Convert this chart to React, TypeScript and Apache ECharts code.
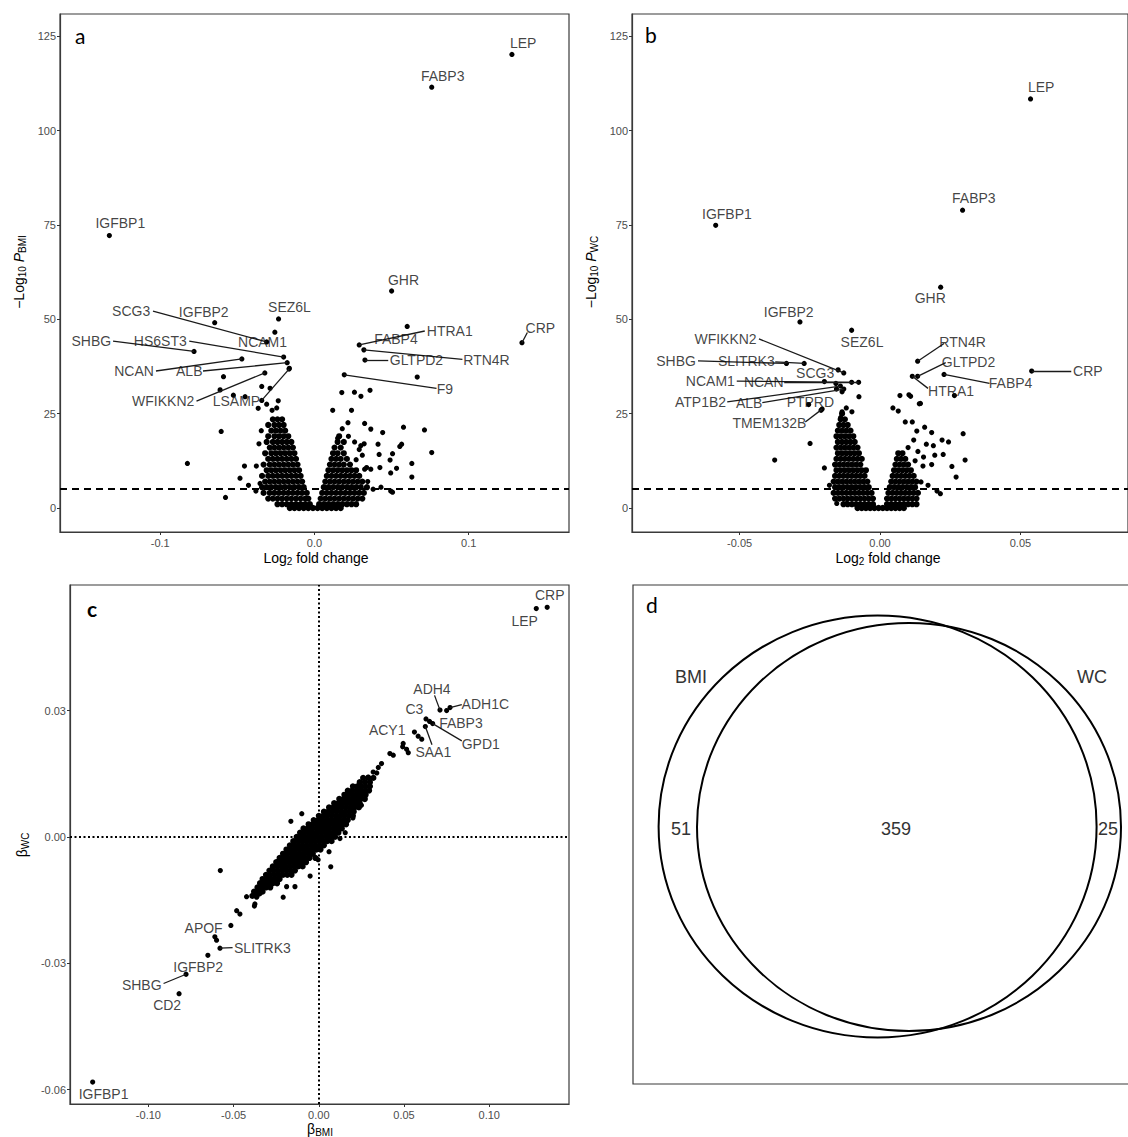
import React, { useEffect, useRef } from "react";
import * as echarts from "echarts";

const FONT = '"Liberation Sans", Arial, Helvetica, sans-serif';
const LETTER_FONT = 'Lato, "Open Sans", sans-serif';

// ---------- Panel a: BMI volcano ----------
const aXTicks = [-0.1, 0, 0.1];
const aXTickLabels = ["-0.1", "0.0", "0.1"];
const yTicksAB = [0, 25, 50, 75, 100, 125];
const yTickLabelsAB = ["0", "25", "50", "75", "100", "125"];
const pThreshold = 5;

const aLabeledPoints: number[][] = [
  [0.128, 120.2], [0.076, 111.5], [-0.133, 72.2], [0.05, 57.5], [-0.0233, 50.1],
  [-0.0647, 49.1], [0.0601, 48.1], [0.1345, 43.8], [-0.0257, 46.6], [-0.031, 44.0],
  [-0.0781, 41.5], [-0.02, 40.0], [-0.0471, 39.5], [-0.0177, 38.5], [-0.0322, 35.8],
  [-0.0165, 36.8], [0.029, 43.2], [0.032, 41.9], [0.0327, 39.2], [0.0193, 35.3],
];
const aOtherPoints: number[][] = [
  [-0.0163, 37.0], [-0.059, 34.8], [-0.0612, 31.3], [-0.0526, 29.9], [-0.045, 29.5],
  [-0.0342, 32.2], [-0.0288, 31.7], [-0.0342, 28.5], [-0.0365, 26.4], [-0.0275, 25.9],
  [-0.0235, 28.4], [-0.0605, 20.3], [-0.0824, 11.8], [-0.0577, 2.8], [-0.0483, 7.9],
  [-0.0454, 11.1], [-0.0428, 6.0], [-0.0377, 11.1], [-0.0353, 6.5], [-0.038, 4.5],
  [-0.0345, 20.5], [-0.036, 17.0], [-0.031, 27.5], [-0.0245, 26.5],
  [0.0666, 34.7], [0.0177, 30.6], [0.0259, 30.7], [0.0301, 29.6], [0.036, 31.2],
  [0.0118, 25.9], [0.024, 25.9], [0.0217, 22.6], [0.0325, 22.4], [0.0365, 20.9],
  [0.0577, 21.4], [0.0713, 20.7], [0.076, 14.7], [0.0442, 20.0], [0.0412, 16.9],
  [0.0553, 16.3], [0.0565, 16.9], [0.0506, 14.4], [0.049, 12.7], [0.0631, 11.8],
  [0.0494, 9.3], [0.0631, 8.2], [0.0431, 5.5], [0.0494, 4.5], [0.0506, 4.2],
  [0.0419, 14.2], [0.0325, 10.3], [0.0365, 10.3], [0.0345, 7.0], [0.038, 5.0],
  [0.026, 17.5], [0.029, 15.5], [0.031, 14.0], [0.027, 12.8], [0.022, 19.0],
  [0.018, 21.0], [0.015, 18.5], [0.03, 16.5], [0.0424, 10.7], [0.0338, 10.7],
  [0.0532, 10.5], [0.0322, 17.0],
];
const aCloudRows: [number, number[]][] = [
  [0, [-0.016, -0.013, -0.01, -0.007, -0.004, -0.001, 0.002, 0.005, 0.008, 0.011, 0.014, 0.017]],
  [1, [-0.024, -0.021, -0.018, -0.015, -0.012, -0.009, -0.006, -0.003, 0.003, 0.006, 0.009, 0.012, 0.015, 0.018, 0.021, 0.024, 0.027]],
  [2.5, [-0.03, -0.027, -0.024, -0.021, -0.018, -0.015, -0.012, -0.009, -0.006, -0.004, 0.004, 0.007, 0.01, 0.013, 0.016, 0.019, 0.022, 0.025, 0.028, 0.031]],
  [4, [-0.033, -0.029, -0.026, -0.023, -0.02, -0.017, -0.014, -0.011, -0.008, -0.005, 0.005, 0.008, 0.011, 0.014, 0.017, 0.02, 0.023, 0.026, 0.029, 0.032]],
  [5.5, [-0.034, -0.031, -0.028, -0.025, -0.022, -0.019, -0.016, -0.013, -0.01, -0.007, 0.006, 0.009, 0.012, 0.015, 0.018, 0.021, 0.024, 0.027, 0.03, 0.034]],
  [7, [-0.032, -0.029, -0.026, -0.023, -0.02, -0.017, -0.014, -0.011, -0.008, 0.007, 0.01, 0.013, 0.016, 0.019, 0.022, 0.025, 0.028, 0.031]],
  [8.5, [-0.034, -0.03, -0.027, -0.024, -0.021, -0.018, -0.015, -0.012, -0.009, 0.008, 0.011, 0.014, 0.017, 0.02, 0.023, 0.026, 0.029]],
  [10, [-0.031, -0.028, -0.025, -0.022, -0.019, -0.016, -0.013, -0.01, 0.009, 0.012, 0.015, 0.018, 0.021, 0.024, 0.027]],
  [11.5, [-0.033, -0.029, -0.026, -0.023, -0.02, -0.017, -0.014, -0.011, 0.01, 0.013, 0.016, 0.019, 0.023]],
  [13, [-0.03, -0.027, -0.024, -0.021, -0.018, -0.015, -0.012, 0.011, 0.014, 0.017, 0.021]],
  [14.5, [-0.032, -0.028, -0.025, -0.022, -0.019, -0.016, -0.013, 0.012, 0.015, 0.019]],
  [16, [-0.029, -0.026, -0.023, -0.02, -0.017, -0.014, 0.013, 0.017]],
  [17.5, [-0.031, -0.027, -0.024, -0.021, -0.018, -0.015, 0.015, 0.019]],
  [19, [-0.03, -0.026, -0.023, -0.02, -0.017, 0.016]],
  [20.5, [-0.028, -0.025, -0.022, -0.019]],
  [22, [-0.03, -0.026, -0.023, -0.02]],
  [23.5, [-0.027, -0.024, -0.021]],
];
const aLabels: [string, number, number][] = [
  ["LEP", 0.1353, 123.3], ["FABP3", 0.0831, 114.6], ["IGFBP1", -0.1259, 75.4],
  ["GHR", 0.0577, 60.4], ["SEZ6L", -0.0162, 53.2], ["IGFBP2", -0.0718, 52.0],
  ["SCG3", -0.1189, 52.2], ["SHBG", -0.1447, 44.2], ["HS6ST3", -0.1, 44.2],
  ["NCAM1", -0.0337, 43.9], ["NCAN", -0.117, 36.3], ["ALB", -0.0812, 36.3],
  ["WFIKKN2", -0.0981, 28.3], ["LSAMP", -0.0506, 28.3], ["HTRA1", 0.0877, 46.9],
  ["FABP4", 0.0528, 44.7], ["GLTPD2", 0.0661, 39.2], ["RTN4R", 0.1115, 39.2],
  ["F9", 0.0845, 31.5], ["CRP", 0.1464, 47.6],
];
const aSegments: number[][] = [
  [-0.1047, 52.2, -0.0311, 44.0], [-0.1306, 44.2, -0.0781, 41.5], [-0.0812, 44.2, -0.02, 40.0],
  [-0.1028, 36.3, -0.0471, 39.5], [-0.0723, 36.3, -0.0177, 38.5], [-0.0765, 28.3, -0.0322, 35.8],
  [-0.0341, 28.6, -0.0165, 36.8], [0.0715, 46.9, 0.029, 43.2], [0.0478, 39.2, 0.0327, 39.2],
  [0.0959, 39.4, 0.032, 41.9], [0.0791, 31.7, 0.0193, 35.3], [0.138, 46.5, 0.1345, 43.8],
];

// ---------- Panel b: WC volcano ----------
const bXTicks = [-0.05, 0, 0.05];
const bXTickLabels = ["-0.05", "0.00", "0.05"];
const bLabeledPoints: number[][] = [
  [0.0536, 108.4], [0.0294, 78.9], [-0.0585, 74.9], [0.0216, 58.5], [-0.0285, 49.3],
  [-0.0101, 47.1], [-0.0129, 35.8], [-0.0333, 38.3], [-0.027, 38.3], [-0.0149, 36.6],
  [-0.0101, 33.3], [-0.0076, 33.3], [-0.0141, 32.3], [-0.0129, 31.5], [-0.0254, 27.4],
  [-0.0206, 26.2], [0.0134, 38.9], [0.0134, 34.9], [0.0115, 34.9], [0.0228, 35.4],
  [0.054, 36.3],
];
const bOtherPoints: number[][] = [
  [-0.0198, 33.5], [-0.0157, 33.0], [-0.0135, 30.8], [-0.0155, 31.5], [-0.0075, 29.5],
  [-0.0249, 17.1], [-0.0375, 12.7], [-0.0198, 10.6], [-0.018, 6.0], [-0.0154, 1.2],
  [-0.0119, 1.2], [-0.021, 25.9], [-0.012, 26.5], [-0.0135, 25.5], [-0.014, 24.0],
  [-0.01, 25.5],
  [0.0296, 19.7], [0.0303, 12.7], [0.0271, 8.2], [0.0256, 11.0], [0.0244, 17.5],
  [0.0221, 18.0], [0.0184, 20.0], [0.0184, 11.5], [0.0153, 11.1], [0.0165, 16.9],
  [0.0131, 20.4], [0.0115, 22.8], [0.009, 22.8], [0.0159, 21.4], [0.0146, 6.9],
  [0.0203, 4.5], [0.0215, 3.8], [0.0171, 6.0], [0.0071, 29.8], [0.0046, 26.5],
  [0.0065, 25.7], [0.0109, 29.6], [0.0144, 27.7], [0.0265, 29.8], [0.0103, 30.0],
  [0.014, 27.6], [0.012, 18.0], [0.01, 16.0], [0.0135, 15.0], [0.0155, 13.5],
  [0.0195, 14.0], [0.0125, 12.5], [0.0225, 14.2], [0.019, 16.5],
];
const bCloudRows: [number, number[]][] = [
  [0, [-0.008, -0.0065, -0.005, -0.0035, -0.002, -0.0005, 0.001, 0.0025, 0.004, 0.0055, 0.007, 0.0085]],
  [1, [-0.013, -0.0115, -0.01, -0.0085, -0.007, -0.0055, -0.004, -0.0025, 0.0025, 0.004, 0.0055, 0.007, 0.0085, 0.01, 0.0115, 0.013]],
  [2.5, [-0.016, -0.0145, -0.013, -0.0115, -0.01, -0.0085, -0.007, -0.0055, -0.004, -0.0025, 0.0025, 0.004, 0.0055, 0.007, 0.0085, 0.01, 0.0115, 0.013]],
  [4, [-0.0165, -0.015, -0.0135, -0.012, -0.0105, -0.009, -0.0075, -0.006, -0.0045, -0.003, 0.003, 0.0045, 0.006, 0.0075, 0.009, 0.0105, 0.012, 0.0135]],
  [5.5, [-0.016, -0.0145, -0.013, -0.0115, -0.01, -0.0085, -0.007, -0.0055, -0.004, 0.0035, 0.005, 0.0065, 0.008, 0.0095, 0.011, 0.0125]],
  [7, [-0.0165, -0.015, -0.0135, -0.012, -0.0105, -0.009, -0.0075, -0.006, -0.0045, 0.004, 0.0055, 0.007, 0.0085, 0.01, 0.0115, 0.013]],
  [8.5, [-0.016, -0.0145, -0.013, -0.0115, -0.01, -0.0085, -0.007, -0.0055, 0.0045, 0.006, 0.0075, 0.009, 0.0105, 0.012]],
  [10, [-0.0155, -0.014, -0.0125, -0.011, -0.0095, -0.008, -0.0065, -0.005, 0.005, 0.0065, 0.008, 0.0095, 0.011]],
  [11.5, [-0.016, -0.0145, -0.013, -0.0115, -0.01, -0.0085, -0.007, 0.0055, 0.007, 0.0085, 0.01]],
  [13, [-0.0155, -0.014, -0.0125, -0.011, -0.0095, -0.008, -0.0065, 0.006, 0.0075, 0.009]],
  [14.5, [-0.015, -0.0135, -0.012, -0.0105, -0.009, -0.0075, 0.0065, 0.008]],
  [16, [-0.0155, -0.014, -0.0125, -0.011, -0.0095, -0.008]],
  [17.5, [-0.015, -0.0135, -0.012, -0.0105, -0.009]],
  [19, [-0.0155, -0.014, -0.0125, -0.011, -0.0095]],
  [20.5, [-0.015, -0.0135, -0.012, -0.0105]],
  [22, [-0.0145, -0.013, -0.0115]],
  [23.5, [-0.014, -0.0125]],
  [25, [-0.0135]],
];
const bLabels: [string, number, number][] = [
  ["LEP", 0.0574, 111.5], ["FABP3", 0.0334, 82.1], ["IGFBP1", -0.0545, 77.8],
  ["GHR", 0.0179, 55.6], ["IGFBP2", -0.0325, 52.0], ["SEZ6L", -0.0064, 44.0],
  ["WFIKKN2", -0.055, 44.8], ["SHBG", -0.0726, 39.0], ["SLITRK3", -0.0476, 39.0],
  ["SCG3", -0.0231, 35.9], ["NCAM1", -0.0604, 33.6], ["NCAN", -0.0414, 33.4],
  ["ATP1B2", -0.0639, 28.0], ["ALB", -0.0466, 27.9], ["PTPRD", -0.0248, 28.0],
  ["TMEM132B", -0.0394, 22.4], ["RTN4R", 0.0294, 44.0], ["GLTPD2", 0.0315, 38.6],
  ["HTRA1", 0.0253, 31.0], ["FABP4", 0.0465, 33.0], ["CRP", 0.074, 36.3],
];
const bSegments: number[][] = [
  [-0.0431, 44.8, -0.0129, 35.8], [-0.0648, 39.0, -0.0333, 38.3], [-0.0373, 38.7, -0.027, 38.3],
  [-0.051, 33.6, -0.0101, 33.3], [-0.0341, 33.3, -0.0076, 33.3], [-0.0544, 28.1, -0.0141, 32.3],
  [-0.0419, 27.9, -0.0129, 31.5], [-0.0266, 22.8, -0.0206, 26.2], [0.0228, 43.6, 0.0134, 38.9],
  [0.0234, 38.5, 0.0134, 34.9], [0.0171, 31.7, 0.0115, 34.9], [0.039, 33.0, 0.0228, 35.4],
  [0.0681, 36.3, 0.054, 36.3],
];

// ---------- Panel c: beta BMI vs beta WC ----------
const cXTicks = [-0.1, -0.05, 0, 0.05, 0.1];
const cXTickLabels = ["-0.10", "-0.05", "0.00", "0.05", "0.10"];
const cYTicks = [-0.06, -0.03, 0, 0.03];
const cYTickLabels = ["-0.06", "-0.03", "0.00", "0.03"];
const cLabeledPoints: number[][] = [
  [0.134, 0.0545], [0.1276, 0.0542], [0.0711, 0.0301], [0.077, 0.0307], [0.0629, 0.028],
  [0.065, 0.0274], [0.0668, 0.0269], [0.0625, 0.0262], [0.0561, 0.0249], [-0.0516, -0.021],
  [-0.058, -0.0264], [-0.0651, -0.0281], [-0.0779, -0.0326], [-0.082, -0.0372],
  [-0.1327, -0.0582],
];
const cOtherPoints: number[][] = [
  [0.075, 0.03], [0.0583, 0.0239], [0.0604, 0.0232], [0.0495, 0.0222], [0.0492, 0.0214],
  [0.0515, 0.0208], [0.0525, 0.02], [0.0417, 0.0198], [0.0437, 0.0194], [0.0368, 0.0174],
  [0.0349, 0.0165], [0.0319, 0.0154], [0.029, 0.0142], [0.034, 0.0152],
  [-0.061, -0.0237], [-0.06, -0.0245], [-0.0482, -0.0175], [-0.0463, -0.0183],
  [-0.0424, -0.0142], [-0.0375, -0.0159], [-0.0365, -0.0143], [-0.0346, -0.0135],
  [-0.0209, -0.0143], [-0.0189, -0.0118], [-0.014, -0.0118], [-0.0578, -0.008],
  [-0.0051, -0.0093], [-0.0004, -0.0054], [0.007, -0.0071], [0.0124, -0.0004],
  [-0.0335, -0.0119], [-0.0378, -0.0164], [-0.024, -0.0058], [-0.0164, 0.0037],
  [-0.01, 0.0055], [0.006, -0.0035], [0.0155, 0.001], [0.02, 0.0045], [0.025, 0.0075],
];
const cCloudRows: [number, number[]][] = [
  [0.014, [0.026, 0.029, 0.032]],
  [0.013, [0.024, 0.027, 0.03]],
  [0.012, [0.02, 0.0225, 0.025, 0.0275, 0.03]],
  [0.011, [0.017, 0.0195, 0.022, 0.0245, 0.027, 0.0295]],
  [0.01, [0.015, 0.0175, 0.02, 0.0225, 0.025, 0.0275]],
  [0.009, [0.012, 0.0145, 0.017, 0.0195, 0.022, 0.0245, 0.027]],
  [0.008, [0.009, 0.0115, 0.014, 0.0165, 0.019, 0.0215, 0.024]],
  [0.007, [0.006, 0.0085, 0.011, 0.0135, 0.016, 0.0185, 0.021, 0.0235]],
  [0.006, [0.003, 0.0055, 0.008, 0.0105, 0.013, 0.0155, 0.018, 0.0205]],
  [0.005, [0.0, 0.0025, 0.005, 0.0075, 0.01, 0.0125, 0.015, 0.0175, 0.02]],
  [0.004, [-0.003, -0.0005, 0.002, 0.0045, 0.007, 0.0095, 0.012, 0.0145, 0.017]],
  [0.003, [-0.006, -0.0035, -0.001, 0.0015, 0.004, 0.0065, 0.009, 0.0115, 0.014, 0.016]],
  [0.002, [-0.009, -0.0065, -0.004, -0.0015, 0.001, 0.0035, 0.006, 0.0085, 0.011, 0.0135]],
  [0.001, [-0.011, -0.0085, -0.006, -0.0035, -0.001, 0.0015, 0.004, 0.0065, 0.009, 0.0115]],
  [0.0, [-0.013, -0.0105, -0.008, -0.0055, -0.003, -0.0005, 0.002, 0.0045, 0.007, 0.0095]],
  [-0.001, [-0.015, -0.0125, -0.01, -0.0075, -0.005, -0.0025, 0.0, 0.0025, 0.005, 0.0075]],
  [-0.002, [-0.017, -0.0145, -0.012, -0.0095, -0.007, -0.0045, -0.002, 0.0005, 0.003]],
  [-0.003, [-0.019, -0.0165, -0.014, -0.0115, -0.009, -0.0065, -0.004, -0.0015, 0.001]],
  [-0.004, [-0.021, -0.0185, -0.016, -0.0135, -0.011, -0.0085, -0.006, -0.0035]],
  [-0.005, [-0.023, -0.0205, -0.018, -0.0155, -0.013, -0.0105, -0.008, -0.0055, -0.002]],
  [-0.006, [-0.025, -0.0225, -0.02, -0.0175, -0.015, -0.0125, -0.01, -0.0075]],
  [-0.007, [-0.027, -0.0245, -0.022, -0.0195, -0.017, -0.0145, -0.012, -0.0095]],
  [-0.008, [-0.029, -0.0265, -0.024, -0.0215, -0.019, -0.0165, -0.014]],
  [-0.009, [-0.031, -0.0285, -0.026, -0.0235, -0.021, -0.0185, -0.016]],
  [-0.01, [-0.033, -0.0305, -0.028, -0.0255, -0.023]],
  [-0.011, [-0.0345, -0.032, -0.0295, -0.027, -0.0245]],
  [-0.012, [-0.036, -0.0335, -0.031, -0.0285]],
  [-0.013, [-0.038, -0.0355, -0.033]],
  [-0.014, [-0.039, -0.0365]],
];
const cLabels: [string, number, number][] = [
  ["CRP", 0.1355, 0.0574], ["LEP", 0.1208, 0.0513], ["ADH4", 0.0664, 0.0352],
  ["ADH1C", 0.0977, 0.0316], ["C3", 0.0561, 0.0304], ["FABP3", 0.0834, 0.0271],
  ["GPD1", 0.095, 0.0221], ["SAA1", 0.0672, 0.0202], ["ACY1", 0.0401, 0.0254],
  ["APOF", -0.0676, -0.0216], ["SLITRK3", -0.0331, -0.0263], ["IGFBP2", -0.0708, -0.0309],
  ["SHBG", -0.1039, -0.0351], ["CD2", -0.089, -0.04], ["IGFBP1", -0.1263, -0.061],
];
const cSegments: number[][] = [
  [0.0679, 0.0336, 0.0711, 0.0301], [0.0839, 0.0314, 0.077, 0.0307],
  [0.0839, 0.0228, 0.0668, 0.0269], [0.0664, 0.0219, 0.0625, 0.0262],
  [-0.0506, -0.0263, -0.058, -0.0264], [-0.0911, -0.0348, -0.0779, -0.0326],
];

// ---------- Panel d: Venn ----------
const vennSets = ["BMI", "WC"];
const vennCounts = [51, 359, 25]; // BMI only, both, WC only

const flattenRows = (rows: [number, number[]][]) =>
  rows.flatMap(([y, xs]) => xs.map((x) => [x, y]));

const fmt = (ticks: number[], labels: string[]) => (v: number) => {
  const i = ticks.findIndex((t) => Math.abs(t - v) < 1e-9);
  return i >= 0 ? labels[i] : "";
};

const TICK_COLOR = "#4d4d4d";
const BORDER = "#3a3a3a";

function valueAxis(gridIndex: number, min: number, max: number, ticks: number[], labels: string[], isX: boolean) {
  return {
    type: "value",
    gridIndex,
    min,
    max,
    position: isX ? "bottom" : "left",
    axisLine: { show: true, onZero: false, lineStyle: { color: BORDER, width: 1.2 } },
    axisTick: { show: true, length: 3, lineStyle: { color: "#333", width: 1 }, customValues: ticks },
    axisLabel: {
      show: true,
      customValues: ticks,
      formatter: fmt(ticks, labels),
      color: TICK_COLOR,
      fontSize: 11,
      fontFamily: FONT,
      margin: isX ? 5 : 4,
    },
    splitLine: { show: false },
  };
}

const richBase = {
  a: { fontSize: 14, fontFamily: FONT, color: "#222" },
  i: { fontSize: 14, fontFamily: FONT, color: "#222", fontStyle: "italic" },
  s: { fontSize: 10, fontFamily: FONT, color: "#222", padding: [7, 0, 0, 0] },
};

export default function App() {
  const ref = useRef<HTMLDivElement>(null);

  useEffect(() => {
    document.body.style.margin = "0";
    if (!ref.current) return;
    const chart = echarts.init(ref.current, undefined, { renderer: "svg" });

    const pointSeries = (idx: number, data: number[][], size: number, markLine?: any) => ({
      type: "scatter",
      xAxisIndex: idx,
      yAxisIndex: idx,
      data,
      symbolSize: size,
      itemStyle: { color: "#000", opacity: 1 },
      z: 2,
      silent: true,
      ...(markLine ? { markLine } : {}),
    });

    const labelSeries = (idx: number, labels: [string, number, number][]) => ({
      type: "scatter",
      xAxisIndex: idx,
      yAxisIndex: idx,
      symbolSize: 1,
      itemStyle: { color: "rgba(0,0,0,0)" },
      z: 5,
      silent: true,
      data: labels.map(([name, x, y]) => ({ name, value: [x, y] })),
      label: {
        show: true,
        position: "inside",
        formatter: "{b}",
        color: "#111",
        textBorderWidth: 0,
        textBorderColor: "transparent",
        fontSize: 14,
        fontFamily: FONT,
      },
    });

    const segSeries = (idx: number, segs: number[][]) => ({
      type: "lines",
      coordinateSystem: "cartesian2d",
      xAxisIndex: idx,
      yAxisIndex: idx,
      polyline: false,
      z: 4,
      silent: true,
      lineStyle: { color: "#1a1a1a", width: 1.3, opacity: 1 },
      data: segs.map(([x1, y1, x2, y2]) => ({ coords: [[x1, y1], [x2, y2]] })),
    });

    const dashed = {
      silent: true,
      symbol: ["none", "none"],
      label: { show: false },
      lineStyle: { type: [7, 5], color: "#000", width: 1.8 },
      data: [{ yAxis: pThreshold }],
    };
    const dotted = {
      silent: true,
      symbol: ["none", "none"],
      label: { show: false },
      lineStyle: { type: [2, 2.5], color: "#000", width: 2 },
      data: [{ xAxis: 0 }, { yAxis: 0 }],
    };

    const gridStyle = { show: true, borderColor: BORDER, borderWidth: 1.2, backgroundColor: "transparent", containLabel: false };

    const option: any = {
      animation: false,
      grid: [
        { left: 60, top: 14, width: 509, height: 518, ...gridStyle },
        { left: 632, top: 14, width: 513, height: 518, ...gridStyle },
        { left: 70, top: 585, width: 499, height: 519, ...gridStyle },
      ],
      xAxis: [
        valueAxis(0, -0.165, 0.165, aXTicks, aXTickLabels, true),
        valueAxis(1, -0.0883, 0.0883, bXTicks, bXTickLabels, true),
        valueAxis(2, -0.146, 0.1468, cXTicks, cXTickLabels, true),
      ],
      yAxis: [
        valueAxis(0, -6.36, 130.9, yTicksAB, yTickLabelsAB, false),
        valueAxis(1, -6.36, 130.9, yTicksAB, yTickLabelsAB, false),
        valueAxis(2, -0.0634, 0.0598, cYTicks, cYTickLabels, false),
      ],
      series: [
        pointSeries(0, flattenRows(aCloudRows), 6.2, dashed),
        pointSeries(0, aOtherPoints, 5.2),
        pointSeries(0, aLabeledPoints, 5.2),
        segSeries(0, aSegments),
        labelSeries(0, aLabels),

        pointSeries(1, flattenRows(bCloudRows), 6.2, dashed),
        pointSeries(1, bOtherPoints, 5.2),
        pointSeries(1, bLabeledPoints, 5.2),
        segSeries(1, bSegments),
        labelSeries(1, bLabels),

        pointSeries(2, flattenRows(cCloudRows), 6.2, dotted),
        pointSeries(2, cOtherPoints, 5.2),
        pointSeries(2, cLabeledPoints, 5.2),
        segSeries(2, cSegments),
        labelSeries(2, cLabels),
      ],
      graphic: [
        // panel letters
        { type: "text", x: 75, y: 35, z: 10, style: { text: "a", font: `21px ${LETTER_FONT}`, fill: "#000", verticalAlign: "middle" } },
        { type: "text", x: 645, y: 34, z: 10, style: { text: "b", font: `21px ${LETTER_FONT}`, fill: "#000", verticalAlign: "middle" } },
        { type: "text", x: 87, y: 608, z: 10, style: { text: "c", font: `bold 21px ${LETTER_FONT}`, fill: "#000", verticalAlign: "middle" } },
        { type: "text", x: 646, y: 604, z: 10, style: { text: "d", font: `21px ${LETTER_FONT}`, fill: "#000", verticalAlign: "middle" } },
        // axis titles
        { type: "text", x: 316, y: 558, style: { text: "{a|Log}{s|2}{a| fold change}", rich: richBase, align: "center", verticalAlign: "middle" } },
        { type: "text", x: 888, y: 558, style: { text: "{a|Log}{s|2}{a| fold change}", rich: richBase, align: "center", verticalAlign: "middle" } },
        { type: "text", x: 320, y: 1129, style: { text: "{a|β}{s|BMI}", rich: richBase, align: "center", verticalAlign: "middle" } },
        { type: "text", x: 19, y: 272, rotation: Math.PI / 2, style: { text: "{a|−Log}{s|10}{a| }{i|P}{s|BMI}", rich: richBase, align: "center", verticalAlign: "middle" } },
        { type: "text", x: 591, y: 272, rotation: Math.PI / 2, style: { text: "{a|−Log}{s|10}{a| }{i|P}{s|WC}", rich: richBase, align: "center", verticalAlign: "middle" } },
        { type: "text", x: 22, y: 845, rotation: Math.PI / 2, style: { text: "{a|β}{s|WC}", rich: richBase, align: "center", verticalAlign: "middle" } },
        // Venn panel
        { type: "rect", shape: { x: 633, y: 585, width: 530, height: 499 }, style: { fill: "none", stroke: BORDER, lineWidth: 1.2 } },
        { type: "ellipse", shape: { cx: 877.6, cy: 826.5, rx: 219, ry: 211 }, style: { fill: "none", stroke: "#000", lineWidth: 2 } },
        { type: "ellipse", shape: { cx: 909, cy: 827, rx: 212, ry: 204 }, style: { fill: "none", stroke: "#000", lineWidth: 2 } },
        { type: "text", x: 691, y: 677, style: { text: vennSets[0], font: `18px ${FONT}`, fill: "#333", align: "center", verticalAlign: "middle" } },
        { type: "text", x: 1092, y: 677, style: { text: vennSets[1], font: `18px ${FONT}`, fill: "#333", align: "center", verticalAlign: "middle" } },
        { type: "text", x: 681, y: 829, style: { text: String(vennCounts[0]), font: `18px ${FONT}`, fill: "#333", align: "center", verticalAlign: "middle" } },
        { type: "text", x: 896, y: 829, style: { text: String(vennCounts[1]), font: `18px ${FONT}`, fill: "#333", align: "center", verticalAlign: "middle" } },
        { type: "text", x: 1108, y: 829, style: { text: String(vennCounts[2]), font: `18px ${FONT}`, fill: "#333", align: "center", verticalAlign: "middle" } },
      ],
    };

    chart.setOption(option);
    return () => chart.dispose();
  }, []);

  return <div ref={ref} style={{ width: 1128, height: 1137, background: "#fff" }} />;
}
